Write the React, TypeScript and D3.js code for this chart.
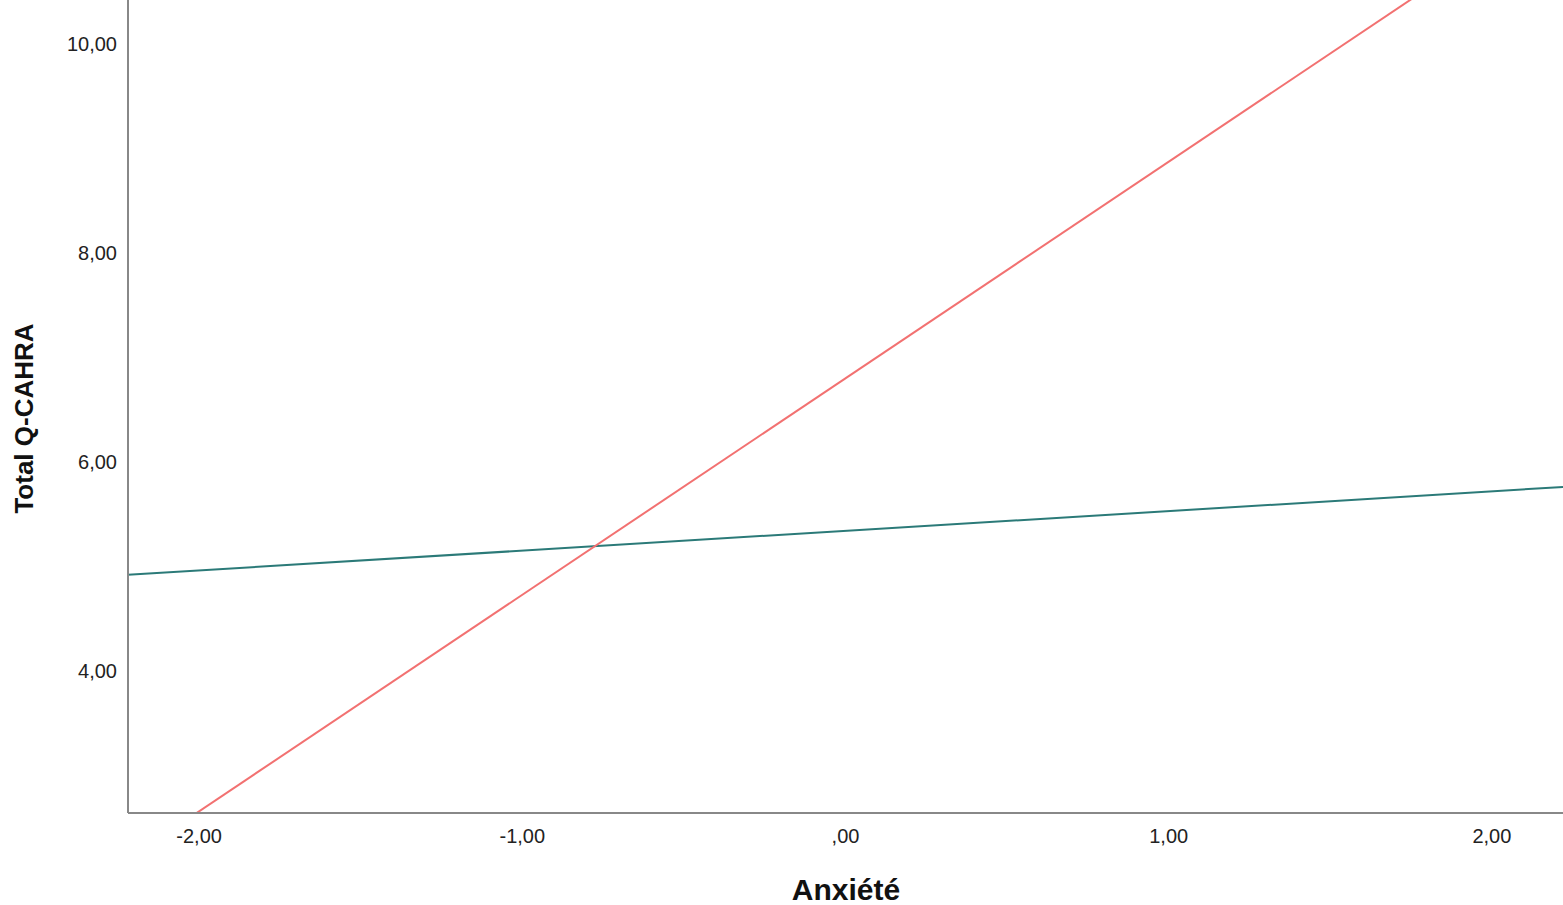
import React from 'react';
import * as d3 from 'd3';

// fitted lines (x = Anxiété, y = Total Q-CAHRA)
const redX = [-2.22, 2.22];
const redY = [2.2, 11.4];
const tealX = [-2.22, 2.22];
const tealY = [4.92, 5.76];

const xTicks = [-2, -1, 0, 1, 2];
const yTicks = [4, 6, 8, 10];

const width = 1563;
const height = 905;
const left = 128;
const right = 1563;
const top = 0;
const bottom = 813;

const fmt = (v: number) => {
  const s = Math.abs(v).toFixed(2).replace('.', ',');
  const t = s.startsWith('0') ? s.slice(1) : s;
  return (v < 0 ? '-' : '') + t;
};

export default function App() {
  const x = d3.scaleLinear().domain([-2.22, 2.22]).range([left, right]);
  const y = d3.scaleLinear().domain([2.64, 10.42]).range([bottom, top]);

  const line = d3.line<[number, number]>()
    .x(d => x(d[0]))
    .y(d => y(d[1]));

  const red = redX.map((v, i) => [v, redY[i]] as [number, number]);
  const teal = tealX.map((v, i) => [v, tealY[i]] as [number, number]);

  return (
    <svg width={width} height={height}
      style={{ position: 'absolute', left: 0, top: 0, background: '#fff' }}
      fontFamily="'Liberation Sans', Arial, sans-serif">
      <defs>
        <clipPath id="plot">
          <rect x={left} y={top} width={right - left} height={bottom - top} />
        </clipPath>
      </defs>
      <g clipPath="url(#plot)">
        <path d={line(teal) || ''} fill="none" stroke="#2b7a78" strokeWidth={2} />
        <path d={line(red) || ''} fill="none" stroke="#f27171" strokeWidth={2} />
      </g>
      <line x1={left} x2={left} y1={0} y2={bottom} stroke="#888" strokeWidth={2} />
      <line x1={left} x2={right} y1={bottom} y2={bottom} stroke="#888" strokeWidth={2} />
      {yTicks.map(t => (
        <text key={t} x={117} y={y(t)} dy="0.35em" textAnchor="end" fontSize={20} fill="#222">
          {fmt(t)}
        </text>
      ))}
      {xTicks.map(t => (
        <text key={t} x={x(t)} y={836} dy="0.35em" textAnchor="middle" fontSize={20} fill="#222">
          {fmt(t)}
        </text>
      ))}
      <text x={846} y={889} dy="0.35em" textAnchor="middle" fontSize={30} fontWeight="bold" fill="#111">
        Anxiété
      </text>
      <text transform={`translate(24,${(322 + 515) / 2}) rotate(-90)`} dy="0.35em" textAnchor="middle"
        fontSize={26} fontWeight="bold" fill="#111">
        Total Q-CAHRA
      </text>
    </svg>
  );
}
